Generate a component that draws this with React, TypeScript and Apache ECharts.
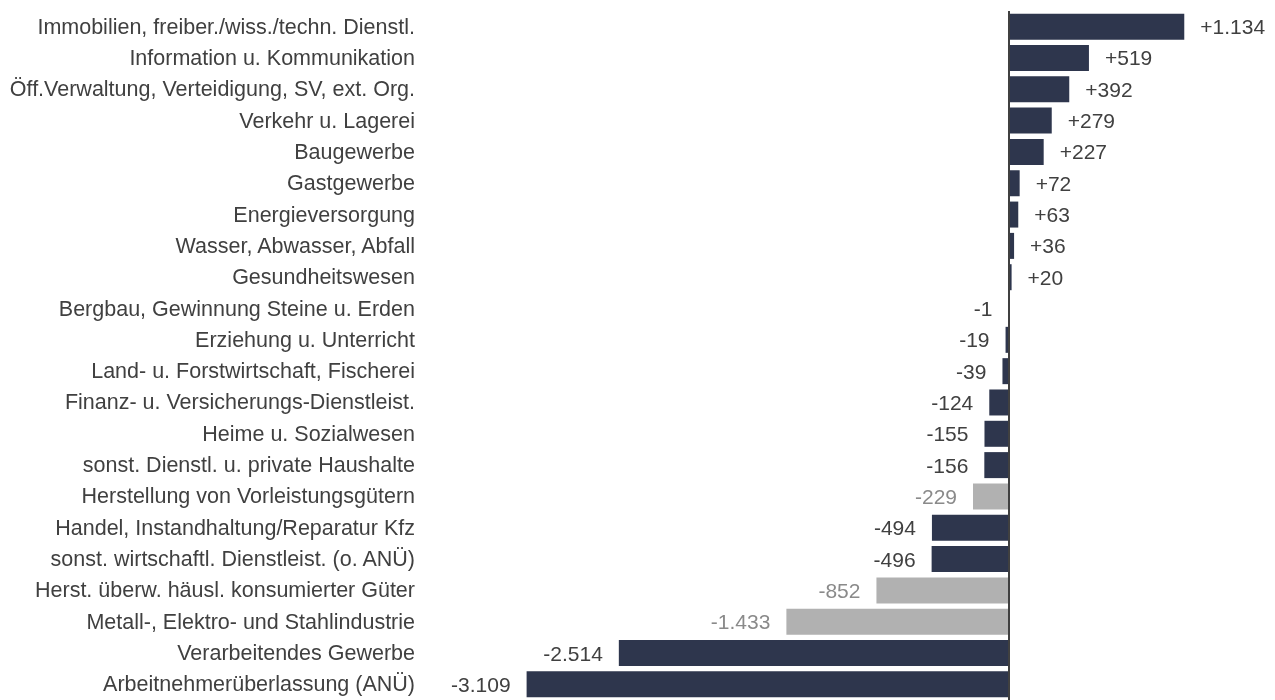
import React, { useEffect, useRef } from "react";
import * as echarts from "echarts";

const categories = [
  "Immobilien, freiber./wiss./techn. Dienstl.",
  "Information u. Kommunikation",
  "Öff.Verwaltung, Verteidigung, SV, ext. Org.",
  "Verkehr u. Lagerei",
  "Baugewerbe",
  "Gastgewerbe",
  "Energieversorgung",
  "Wasser, Abwasser, Abfall",
  "Gesundheitswesen",
  "Bergbau, Gewinnung Steine u. Erden",
  "Erziehung u. Unterricht",
  "Land- u. Forstwirtschaft, Fischerei",
  "Finanz- u. Versicherungs-Dienstleist.",
  "Heime u. Sozialwesen",
  "sonst. Dienstl. u. private Haushalte",
  "Herstellung von Vorleistungsgütern",
  "Handel, Instandhaltung/Reparatur Kfz",
  "sonst. wirtschaftl. Dienstleist. (o. ANÜ)",
  "Herst. überw. häusl. konsumierter Güter",
  "Metall-, Elektro- und Stahlindustrie",
  "Verarbeitendes Gewerbe",
  "Arbeitnehmerüberlassung (ANÜ)",
];

const values = [
  1134, 519, 392, 279, 227, 72, 63, 36, 20, -1, -19, -39, -124, -155, -156,
  -229, -494, -496, -852, -1433, -2514, -3109,
];

const highlighted = [
  "Herstellung von Vorleistungsgütern",
  "Herst. überw. häusl. konsumierter Güter",
  "Metall-, Elektro- und Stahlindustrie",
];

const NAVY = "#2e364d";
const GREY = "#b1b1b1";
const FONT = "Liberation Sans, Arial, sans-serif";

function fmt(v: number): string {
  const s = String(Math.abs(v)).replace(/\B(?=(\d{3})+(?!\d))/g, ".");
  return (v > 0 ? "+" : v < 0 ? "-" : "") + s;
}

export default function App() {
  const ref = useRef<HTMLDivElement>(null);
  useEffect(() => {
    if (!ref.current) return;
    const chart = echarts.init(ref.current, undefined, { renderer: "svg" });
    const data = values.map((v, i) => {
      const grey = highlighted.includes(categories[i]);
      return {
        value: v,
        itemStyle: { color: grey ? GREY : NAVY },
        label: {
          position: v >= 0 ? "right" : "left",
          distance: 16,
          color: grey ? "#8a8a8a" : "#404040",
        },
      };
    });
    chart.setOption({
      animation: false,
      grid: { left: 497, top: 11, width: 744, height: 694 },
      xAxis: {
        type: "value",
        min: -3300,
        max: 1500,
        show: false,
      },
      yAxis: {
        type: "category",
        data: categories,
        inverse: true,
        axisLine: { show: false },
        axisTick: { show: false },
        axisLabel: {
          margin: 82,
          fontFamily: FONT,
          fontSize: 21.5,
          color: "#404040",
        },
      },
      series: [
        {
          type: "bar",
          data,
          barWidth: 26,
          label: {
            show: true,
            fontFamily: FONT,
            fontSize: 21,
            formatter: (p: any) => fmt(p.value),
          },
          markLine: {
            silent: true,
            symbol: "none",
            label: { show: false },
            lineStyle: { color: "#404040", width: 2, type: "solid" },
            data: [{ xAxis: 0 }],
          },
        },
      ],
    });
    return () => chart.dispose();
  }, []);
  return (
    <div
      ref={ref}
      style={{ position: "fixed", left: 0, top: 0, width: 1275, height: 700 }}
    />
  );
}
